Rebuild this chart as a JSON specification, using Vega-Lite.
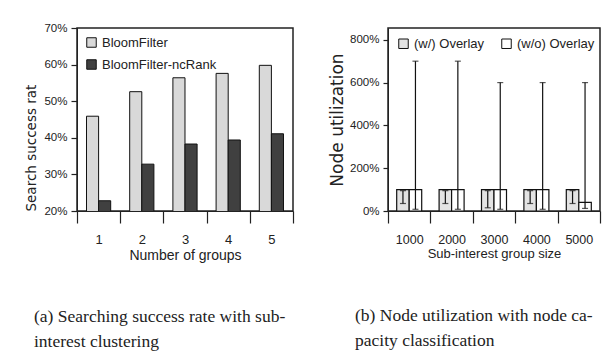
{
  "$schema": "https://vega.github.io/schema/vega-lite/v6.json",
  "background": "white",
  "padding": {"left": 24, "top": 21, "right": 5, "bottom": 0},
  "spacing": 32,
  "resolve": {"scale": {"color": "independent"}, "legend": {"color": "independent"}},
  "config": {
    "view": {"stroke": "#222", "strokeWidth": 1.5},
    "axis": {
      "labelFont": "Liberation Sans", "labelFontSize": 11.5, "labelColor": "#222",
      "titleFont": "Liberation Sans", "titleFontWeight": "normal", "titleColor": "#222",
      "domainColor": "#222", "tickColor": "#222", "tickWidth": 1.2, "grid": false, "ticks": true
    },
    "legend": {
      "labelFont": "Liberation Sans", "labelFontSize": 13, "labelColor": "#222",
      "symbolType": "square", "symbolSize": 90, "symbolStrokeColor": "#111", "symbolStrokeWidth": 1
    },
    "title": {"font": "Liberation Serif", "fontSize": 17.5, "fontWeight": "normal", "color": "#222"}
  },
  "hconcat": [
    {
      "width": 216,
      "height": 183,
      "title": {
        "text": ["(a) Searching success rate with sub-", "interest clustering"],
        "orient": "bottom", "anchor": "start", "frame": "group", "dx": -43, "offset": 46, "lineHeight": 25
      },
      "data": {
        "values": [
          {"groups": "1", "series": "BloomFilter", "rate": 0.459},
          {"groups": "2", "series": "BloomFilter", "rate": 0.526},
          {"groups": "3", "series": "BloomFilter", "rate": 0.564},
          {"groups": "4", "series": "BloomFilter", "rate": 0.576},
          {"groups": "5", "series": "BloomFilter", "rate": 0.598},
          {"groups": "1", "series": "BloomFilter-ncRank", "rate": 0.228},
          {"groups": "2", "series": "BloomFilter-ncRank", "rate": 0.328},
          {"groups": "3", "series": "BloomFilter-ncRank", "rate": 0.383},
          {"groups": "4", "series": "BloomFilter-ncRank", "rate": 0.394},
          {"groups": "5", "series": "BloomFilter-ncRank", "rate": 0.411}
        ]
      },
      "encoding": {
        "x": {
          "field": "groups", "type": "ordinal",
          "scale": {"type": "band", "paddingInner": 0, "paddingOuter": 0},
          "axis": {
            "title": "Number of groups", "titleFontSize": 14, "titlePadding": 2,
            "labelAngle": 0, "labelFontSize": 13, "tickBand": "extent", "ticks": true,
            "tickSize": 12, "labelPadding": 10
          }
        },
        "y": {
          "field": "rate", "type": "quantitative",
          "scale": {"domain": [0.2, 0.7], "nice": false, "zero": false},
          "axis": {
            "format": ".0%", "values": [0.2, 0.3, 0.4, 0.5, 0.6, 0.7],
            "title": "Search success rat", "titleFont": "DejaVu Sans", "titleFontSize": 13.5,
            "titleAnchor": "start", "titlePadding": 5, "tickSize": 6, "labelPadding": 4
          }
        },
        "color": {
          "field": "series", "type": "nominal",
          "scale": {"domain": ["BloomFilter", "BloomFilter-ncRank"], "range": ["#d9d9d9", "#404040"]},
          "legend": {"title": null, "orient": "top-left", "direction": "vertical", "offset": 8, "rowPadding": 7}
        }
      },
      "layer": [
        {
          "transform": [{"filter": "datum.series === 'BloomFilter'"}],
          "mark": {"type": "bar", "stroke": "#111", "strokeWidth": 1, "clip": true, "width": {"band": 0.28}, "xOffset": -6.05}
        },
        {
          "transform": [{"filter": "datum.series === 'BloomFilter-ncRank'"}],
          "mark": {"type": "bar", "stroke": "#111", "strokeWidth": 1, "clip": true, "width": {"band": 0.28}, "xOffset": 6.05}
        }
      ]
    },
    {
      "width": 212,
      "height": 183,
      "title": {
        "text": ["(b) Node utilization with node ca-", "pacity classification"],
        "orient": "bottom", "anchor": "start", "frame": "group", "dx": -33, "offset": 46, "lineHeight": 25
      },
      "data": {
        "values": [
          {"size": "1000", "mode": "(w/) Overlay", "util": 1.0, "low": 0.35, "high": 0.95},
          {"size": "2000", "mode": "(w/) Overlay", "util": 1.0, "low": 0.35, "high": 0.95},
          {"size": "3000", "mode": "(w/) Overlay", "util": 1.0, "low": 0.15, "high": 0.95},
          {"size": "4000", "mode": "(w/) Overlay", "util": 1.0, "low": 0.35, "high": 0.95},
          {"size": "5000", "mode": "(w/) Overlay", "util": 1.0, "low": 0.35, "high": 0.95},
          {"size": "1000", "mode": "(w/o) Overlay", "util": 1.0, "low": 0.08, "high": 7.0},
          {"size": "2000", "mode": "(w/o) Overlay", "util": 1.0, "low": 0.08, "high": 7.0},
          {"size": "3000", "mode": "(w/o) Overlay", "util": 1.0, "low": 0.08, "high": 6.0},
          {"size": "4000", "mode": "(w/o) Overlay", "util": 1.0, "low": 0.08, "high": 6.0},
          {"size": "5000", "mode": "(w/o) Overlay", "util": 0.4, "low": 0.12, "high": 6.0}
        ]
      },
      "encoding": {
        "x": {
          "field": "size", "type": "ordinal",
          "scale": {"type": "band", "paddingInner": 0, "paddingOuter": 0},
          "axis": {
            "title": "Sub-interest group size", "titleFontSize": 13, "titlePadding": 2,
            "labelAngle": 0, "labelFontSize": 12.5, "tickBand": "extent", "ticks": true,
            "tickSize": 12, "labelPadding": 10
          }
        }
      },
      "layer": [
        {
          "transform": [{"filter": "datum.mode === '(w/) Overlay'"}],
          "mark": {"type": "bar", "stroke": "#111", "strokeWidth": 1.2, "clip": true, "width": {"band": 0.295}, "xOffset": -6.25},
          "encoding": {
            "y": {
              "field": "util", "type": "quantitative",
              "scale": {"domain": [0, 8.55], "nice": false},
              "axis": {
                "format": ".0%", "values": [0, 2, 4, 6, 8],
                "title": "Node utilization", "titleFont": "DejaVu Sans", "titleFontSize": 17,
                "titlePadding": 3, "tickSize": 5, "labelPadding": 4
              }
            },
            "color": {
              "field": "mode", "type": "nominal",
              "scale": {"domain": ["(w/) Overlay", "(w/o) Overlay"], "range": ["#e3e3e3", "#ffffff"]},
              "legend": {"title": null, "orient": "top-left", "direction": "horizontal", "offset": 9, "columnPadding": 14}
            }
          }
        },
        {
          "transform": [{"filter": "datum.mode === '(w/o) Overlay'"}],
          "mark": {"type": "bar", "stroke": "#111", "strokeWidth": 1.2, "clip": true, "width": {"band": 0.295}, "xOffset": 6.25},
          "encoding": {
            "y": {"field": "util", "type": "quantitative"},
            "color": {"field": "mode", "type": "nominal"}
          }
        },
        {
          "transform": [{"filter": "datum.mode === '(w/) Overlay'"}],
          "mark": {"type": "rule", "color": "#111", "strokeWidth": 1.2, "xOffset": -6.25},
          "encoding": {"y": {"field": "low", "type": "quantitative"}, "y2": {"field": "high"}}
        },
        {
          "transform": [{"filter": "datum.mode === '(w/o) Overlay'"}],
          "mark": {"type": "rule", "color": "#111", "strokeWidth": 1.2, "xOffset": 6.25},
          "encoding": {"y": {"field": "low", "type": "quantitative"}, "y2": {"field": "high"}}
        },
        {
          "transform": [{"filter": "datum.mode === '(w/) Overlay'"}],
          "mark": {"type": "tick", "orient": "horizontal", "size": 6, "thickness": 1.2, "color": "#111", "xOffset": -6.25},
          "encoding": {"y": {"field": "low", "type": "quantitative"}}
        },
        {
          "transform": [{"filter": "datum.mode === '(w/) Overlay'"}],
          "mark": {"type": "tick", "orient": "horizontal", "size": 6, "thickness": 1.2, "color": "#111", "xOffset": -6.25},
          "encoding": {"y": {"field": "high", "type": "quantitative"}}
        },
        {
          "transform": [{"filter": "datum.mode === '(w/o) Overlay'"}],
          "mark": {"type": "tick", "orient": "horizontal", "size": 6, "thickness": 1.2, "color": "#111", "xOffset": 6.25},
          "encoding": {"y": {"field": "low", "type": "quantitative"}}
        },
        {
          "transform": [{"filter": "datum.mode === '(w/o) Overlay'"}],
          "mark": {"type": "tick", "orient": "horizontal", "size": 6, "thickness": 1.2, "color": "#111", "xOffset": 6.25},
          "encoding": {"y": {"field": "high", "type": "quantitative"}}
        }
      ]
    }
  ]
}
